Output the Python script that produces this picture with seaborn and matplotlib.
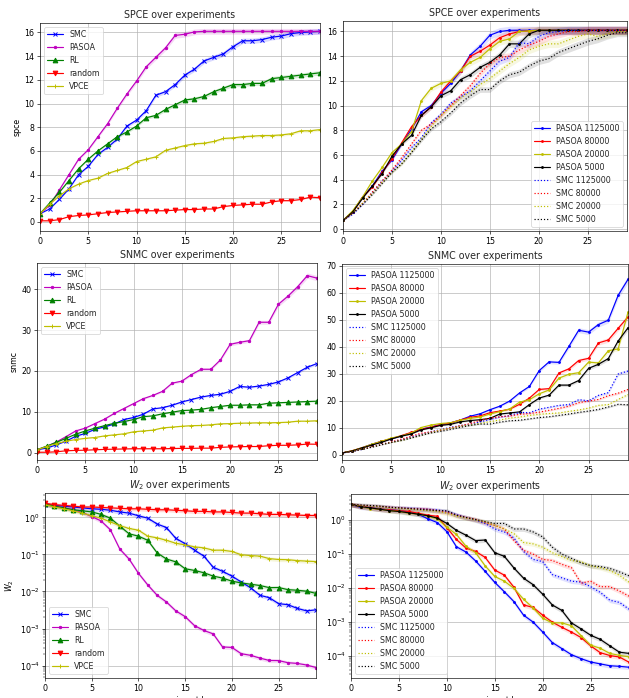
import numpy as np
import matplotlib
matplotlib.use("Agg")
import matplotlib.pyplot as plt
import seaborn as sns

# ---------------- data ----------------
experiments = list(range(30))

# SPCE (left)
spce_smc = [0.7, 1.1, 1.9, 2.8, 4.0, 4.7, 5.7, 6.3, 7.0, 8.1, 8.6, 9.4, 10.7, 11.0, 11.6,
            12.4, 12.9, 13.6, 13.9, 14.2, 14.8, 15.3, 15.3, 15.4, 15.6, 15.7, 15.9, 16.0, 16.05, 16.1]
spce_pasoa = [0.7, 1.4, 2.7, 4.0, 5.3, 6.1, 7.2, 8.3, 9.6, 10.8, 11.9, 13.1, 13.9, 14.7, 15.75,
              15.85, 16.05, 16.1, 16.1, 16.1, 16.1, 16.1, 16.1, 16.1, 16.1, 16.1, 16.1, 16.1, 16.1, 16.1]
spce_rl = [0.7, 1.6, 2.5, 3.5, 4.5, 5.3, 6.0, 6.6, 7.2, 7.6, 8.1, 8.8, 9.0, 9.5, 9.9,
           10.3, 10.4, 10.6, 11.0, 11.3, 11.6, 11.6, 11.7, 11.7, 12.1, 12.2, 12.3, 12.4, 12.5, 12.6]
spce_random = [0.1, 0.1, 0.2, 0.45, 0.55, 0.6, 0.7, 0.8, 0.85, 0.9, 0.95, 0.95, 0.95, 0.95, 1.0,
               1.05, 1.05, 1.1, 1.1, 1.3, 1.4, 1.45, 1.5, 1.5, 1.7, 1.8, 1.8, 1.9, 2.1, 2.05]
spce_vpce = [0.7, 1.5, 2.2, 2.8, 3.2, 3.5, 3.7, 4.1, 4.35, 4.6, 5.1, 5.3, 5.5, 6.05, 6.25,
             6.45, 6.6, 6.65, 6.8, 7.05, 7.1, 7.2, 7.25, 7.3, 7.3, 7.35, 7.45, 7.7, 7.7, 7.8]

# SPCE (right)
spce_pasoa_1125000 = [0.7, 1.4, 2.6, 3.5, 4.7, 5.6, 6.9, 8.1, 9.5, 10.0, 11.0, 11.8, 12.8, 14.1, 14.8,
                      15.7, 16.0, 16.1, 16.1, 16.1, 16.1, 16.1, 16.1, 16.1, 16.1, 16.1, 16.1, 16.1, 16.1, 16.1]
spce_pasoa_80000 = [0.7, 1.4, 2.6, 3.4, 4.6, 5.7, 7.0, 8.3, 9.2, 9.9, 11.1, 12.0, 12.8, 14.0, 14.4,
                    14.9, 15.5, 15.8, 16.0, 16.05, 16.1, 16.1, 16.1, 16.1, 16.1, 16.1, 16.1, 16.1, 16.1, 16.1]
spce_pasoa_20000 = [0.7, 1.5, 2.6, 3.9, 5.0, 6.2, 6.9, 7.9, 10.4, 11.4, 11.8, 12.0, 12.9, 13.5, 13.9,
                    14.6, 15.2, 15.4, 16.0, 16.05, 16.1, 16.1, 16.1, 16.1, 16.1, 16.1, 16.1, 16.1, 16.1, 16.1]
spce_pasoa_5000 = [0.7, 1.4, 2.5, 3.5, 4.5, 5.9, 6.9, 7.6, 9.2, 9.9, 10.8, 11.2, 12.1, 12.5, 13.1,
                   13.5, 14.1, 15.0, 15.0, 15.8, 16.1, 16.1, 16.1, 16.1, 16.1, 16.1, 16.1, 16.1, 16.1, 16.1]
spce_smc_1125000 = [0.7, 1.2, 2.0, 3.0, 3.9, 4.7, 5.6, 6.6, 7.4, 8.6, 9.3, 10.2, 10.7, 11.2, 12.0,
                    12.8, 13.6, 13.9, 15.1, 15.0, 15.6, 15.9, 16.0, 16.1, 16.1, 16.1, 16.1, 16.1, 16.1, 16.1]
spce_smc_80000 = [0.7, 1.3, 2.1, 3.0, 3.9, 4.8, 5.8, 6.9, 8.0, 8.5, 9.2, 10.0, 10.8, 11.6, 12.6,
                  13.4, 13.9, 14.0, 14.5, 14.9, 15.2, 15.6, 15.8, 16.0, 16.0, 16.1, 16.1, 16.1, 16.1, 16.1]
spce_smc_20000 = [0.7, 1.3, 2.1, 2.9, 3.8, 4.6, 5.3, 6.3, 7.3, 8.3, 9.2, 9.9, 10.6, 11.1, 11.7,
                  12.2, 12.8, 13.4, 13.9, 14.5, 14.8, 15.0, 15.0, 15.3, 15.6, 15.8, 15.6, 15.8, 16.0, 16.0]
spce_smc_5000 = [0.7, 1.3, 2.0, 2.8, 3.7, 4.6, 5.3, 6.2, 7.2, 8.1, 8.7, 9.4, 10.2, 10.8, 11.3,
                 11.3, 12.0, 12.5, 12.7, 13.2, 13.6, 13.8, 14.3, 14.6, 14.9, 15.2, 15.4, 15.7, 15.9, 15.9]

# SNMC (left)
snmc_smc = [0.7, 1.1, 1.9, 2.8, 4.0, 4.7, 5.7, 6.3, 7.0, 8.1, 8.6, 9.4, 10.7, 11.0, 11.6,
            12.4, 13.0, 13.6, 14.0, 14.3, 15.0, 16.2, 16.0, 16.3, 16.7, 17.3, 18.3, 19.6, 20.9, 21.8]
snmc_pasoa = [0.7, 1.5, 2.6, 3.9, 5.3, 6.0, 7.1, 8.2, 9.6, 10.8, 12.0, 13.2, 14.0, 15.0, 17.0,
              17.5, 19.1, 20.4, 20.4, 22.7, 26.5, 27.0, 27.4, 31.9, 31.9, 36.3, 38.3, 40.6, 43.3, 42.7]
snmc_rl = [0.7, 1.6, 2.5, 3.5, 4.5, 5.3, 6.0, 6.6, 7.2, 7.6, 8.1, 8.8, 9.0, 9.5, 9.9,
           10.3, 10.4, 10.6, 11.0, 11.3, 11.6, 11.6, 11.7, 11.7, 12.1, 12.2, 12.3, 12.4, 12.5, 12.6]
snmc_random = [0.1, 0.1, 0.2, 0.45, 0.55, 0.6, 0.7, 0.8, 0.85, 0.9, 0.95, 0.95, 0.95, 0.95, 1.0,
               1.05, 1.05, 1.1, 1.1, 1.3, 1.4, 1.45, 1.5, 1.5, 1.7, 1.8, 1.8, 1.9, 2.1, 2.05]
snmc_vpce = [0.7, 1.5, 2.2, 2.8, 3.2, 3.5, 3.7, 4.1, 4.35, 4.6, 5.1, 5.3, 5.5, 6.05, 6.25,
             6.45, 6.6, 6.65, 6.8, 7.05, 7.1, 7.2, 7.25, 7.3, 7.3, 7.35, 7.45, 7.7, 7.7, 7.8]

# SNMC (right)
snmc_pasoa_1125000 = [0.7, 1.4, 2.6, 3.9, 5.0, 5.9, 7.0, 8.1, 9.5, 10.3, 11.2, 11.8, 12.9, 14.3, 15.2,
                      16.7, 18.0, 19.9, 22.9, 25.3, 31.2, 34.4, 34.2, 40.1, 46.1, 45.4, 48.2, 49.8, 59.0, 64.9]
snmc_pasoa_80000 = [0.7, 1.5, 2.6, 3.8, 5.0, 6.0, 7.1, 8.3, 9.4, 10.2, 11.2, 11.8, 12.9, 13.9, 14.4,
                    15.6, 16.2, 16.9, 18.7, 21.0, 24.2, 24.5, 30.3, 31.8, 34.9, 35.7, 41.4, 42.5, 46.8, 51.0]
snmc_pasoa_20000 = [0.7, 1.5, 2.6, 3.9, 5.0, 6.2, 7.0, 8.0, 10.1, 11.0, 11.6, 11.9, 12.8, 13.5, 14.0,
                    15.1, 16.0, 17.0, 19.5, 20.4, 22.6, 24.0, 28.4, 29.8, 30.4, 34.3, 34.0, 38.5, 39.2, 52.8]
snmc_pasoa_5000 = [0.7, 1.4, 2.5, 3.6, 4.6, 5.9, 6.9, 7.7, 9.2, 10.0, 10.9, 11.3, 12.2, 12.7, 13.0,
                   13.5, 15.1, 15.5, 15.9, 18.6, 21.0, 22.1, 25.8, 25.8, 27.5, 32.0, 33.5, 35.6, 42.1, 47.0]
snmc_smc_1125000 = [0.7, 1.2, 2.0, 3.0, 3.9, 4.7, 5.6, 6.6, 7.5, 8.6, 9.3, 10.2, 10.8, 11.3, 12.2,
                    13.1, 14.0, 14.5, 15.7, 15.6, 16.9, 17.6, 18.3, 18.6, 20.4, 20.0, 22.0, 23.0, 29.9, 31.0]
snmc_smc_80000 = [0.7, 1.3, 2.1, 3.0, 3.9, 4.8, 5.8, 6.9, 8.0, 8.5, 9.2, 10.0, 10.8, 11.6, 12.8,
                  13.6, 14.1, 14.4, 15.0, 15.3, 15.8, 16.5, 17.2, 18.0, 19.3, 19.9, 20.5, 21.9, 22.8, 24.2]
snmc_smc_20000 = [0.7, 1.3, 2.1, 2.9, 3.8, 4.6, 5.3, 6.3, 7.3, 8.3, 9.2, 9.9, 10.6, 11.1, 11.7,
                  12.3, 12.9, 13.6, 14.0, 14.6, 15.0, 15.3, 15.5, 16.1, 16.6, 17.3, 18.3, 18.6, 20.5, 22.3]
snmc_smc_5000 = [0.7, 1.3, 2.0, 2.8, 3.7, 4.6, 5.3, 6.2, 7.2, 8.1, 8.7, 9.4, 10.2, 10.9, 11.4,
                 11.4, 12.1, 12.6, 12.8, 13.3, 13.8, 14.1, 14.6, 15.1, 15.7, 16.2, 16.8, 17.7, 18.7, 18.5]

# W2 (left)
w2_smc = [2.2, 2.1, 2.0, 1.9, 1.8, 1.7, 1.65, 1.55, 1.4, 1.3, 1.1, 0.95, 0.66, 0.53, 0.27,
          0.195, 0.13, 0.09, 0.045, 0.035, 0.026, 0.018, 0.0126, 0.0079, 0.0068, 0.0047, 0.0044, 0.0035, 0.003, 0.0032]
w2_pasoa = [2.2, 2.0, 1.8, 1.6, 1.35, 1.05, 0.8, 0.46, 0.14, 0.075, 0.031, 0.015, 0.0079, 0.0052, 0.003,
            0.0021, 0.0012, 0.00089, 0.00072, 0.00032, 0.00031, 0.00021, 0.00019, 0.00016, 0.000138, 0.000137, 0.00012, 0.000115, 0.000104, 0.000089]
w2_rl = [2.3, 2.0, 1.8, 1.6, 1.5, 1.4, 1.2, 0.95, 0.58, 0.36, 0.31, 0.24, 0.11, 0.075, 0.063,
         0.041, 0.037, 0.032, 0.026, 0.023, 0.019, 0.017, 0.0157, 0.0145, 0.0127, 0.0128, 0.0112, 0.0108, 0.0102, 0.0089]
w2_random = [2.4, 2.2, 2.1, 2.0, 1.9, 1.9, 1.85, 1.8, 1.75, 1.7, 1.7, 1.65, 1.6, 1.6, 1.55,
             1.5, 1.45, 1.45, 1.4, 1.4, 1.35, 1.3, 1.3, 1.25, 1.2, 1.2, 1.17, 1.15, 1.12, 1.12]
w2_vpce = [2.2, 1.9, 1.7, 1.5, 1.3, 1.1, 0.95, 0.75, 0.6, 0.5, 0.45, 0.31, 0.28, 0.24, 0.2,
           0.18, 0.16, 0.15, 0.13, 0.13, 0.12, 0.098, 0.093, 0.09, 0.077, 0.073, 0.072, 0.068, 0.066, 0.064]

# W2 (right)
w2_pasoa_1125000 = [2.9, 2.4, 2.3, 2.1, 2.0, 1.9, 1.7, 1.5, 1.1, 0.85, 0.46, 0.165, 0.115, 0.063, 0.031,
                    0.0147, 0.0078, 0.004, 0.0016, 0.001, 0.00051, 0.00025, 0.000166, 0.00011, 0.000084, 0.000067, 0.000059, 0.000052, 0.00005, 0.000047]
w2_pasoa_80000 = [2.9, 2.5, 2.3, 2.1, 2.0, 1.9, 1.8, 1.6, 1.4, 1.3, 0.6, 0.27, 0.15, 0.12, 0.08,
                  0.034, 0.024, 0.0106, 0.0032, 0.0027, 0.0016, 0.001, 0.0007, 0.00051, 0.00035, 0.0002, 0.000126, 0.000104, 0.000094, 0.000066]
w2_pasoa_20000 = [2.9, 2.5, 2.2, 2.1, 1.9, 1.8, 1.6, 1.5, 1.3, 1.1, 0.62, 0.38, 0.17, 0.11, 0.045,
                  0.022, 0.016, 0.0098, 0.0047, 0.0026, 0.0013, 0.00095, 0.00095, 0.00078, 0.0004, 0.00021, 0.00017, 0.00012, 0.000105, 0.000095]
w2_pasoa_5000 = [2.9, 2.5, 2.3, 2.1, 1.9, 1.8, 1.65, 1.5, 1.35, 1.15, 0.8, 0.5, 0.36, 0.25, 0.26,
                 0.11, 0.086, 0.039, 0.0196, 0.0126, 0.0066, 0.0032, 0.0022, 0.00095, 0.00063, 0.00041, 0.00031, 0.0002, 0.00013, 0.00012]
w2_smc_1125000 = [2.9, 2.7, 2.6, 2.5, 2.4, 2.3, 2.25, 2.2, 2.1, 2.0, 1.8, 1.45, 1.2, 1.0, 0.8,
                  0.55, 0.45, 0.3, 0.12, 0.07, 0.06, 0.025, 0.02, 0.016, 0.015, 0.011, 0.0075, 0.0044, 0.0038, 0.0024]
w2_smc_80000 = [2.9, 2.7, 2.6, 2.5, 2.4, 2.3, 2.2, 2.15, 2.1, 1.9, 1.7, 1.4, 1.2, 1.05, 0.85,
                0.7, 0.55, 0.25, 0.13, 0.1, 0.07, 0.065, 0.05, 0.04, 0.014, 0.016, 0.011, 0.011, 0.0082, 0.0058]
w2_smc_20000 = [2.9, 2.7, 2.6, 2.5, 2.3, 2.2, 2.1, 2.0, 1.9, 1.8, 1.6, 1.3, 1.15, 1.0, 0.9,
                0.7, 0.55, 0.4, 0.22, 0.2, 0.16, 0.11, 0.085, 0.065, 0.06, 0.045, 0.04, 0.033, 0.024, 0.015]
w2_smc_5000 = [2.9, 2.8, 2.7, 2.6, 2.4, 2.3, 2.2, 2.1, 2.0, 1.9, 1.9, 1.4, 1.2, 1.05, 0.9,
               0.8, 0.8, 0.55, 0.55, 0.45, 0.32, 0.16, 0.1, 0.075, 0.055, 0.046, 0.043, 0.038, 0.03, 0.023]

method_labels = ["SMC", "PASOA", "RL", "random", "VPCE"]
budget_labels = ["PASOA 1125000", "PASOA 80000", "PASOA 20000", "PASOA 5000",
                 "SMC 1125000", "SMC 80000", "SMC 20000", "SMC 5000"]

# ---------------- style ----------------
DPI = 57
plt.rcParams.update(plt.rcParamsDefault)
sns.set_style("ticks")
plt.rcParams["font.family"] = ["DejaVu Sans"]
plt.rcParams["axes.edgecolor"] = "black"
plt.rcParams["xtick.color"] = "black"
plt.rcParams["ytick.color"] = "black"
plt.rcParams["axes.labelcolor"] = "black"

left_styles = [("b", "x"), ("m", "."), ("g", "^"), ("r", "v"), ("y", "+")]
right_styles = [("b", "-", "."), ("r", "-", "."), ("y", "-", "."), ("k", "-", "."),
                ("b", ":", None), ("r", ":", None), ("y", ":", None), ("k", ":", None)]

fig = plt.figure(figsize=(629 / DPI, 698 / DPI), dpi=DPI)
W, H = 629.0, 698.0


def make_ax(l, r, t, b):
    return fig.add_axes([l / W, 1 - b / H, (r - l) / W, (b - t) / H])


def draw_left(ax, series, log=False):
    for (c, m), vals, lab in zip(left_styles, series, method_labels):
        v = np.array(vals)
        rel = 0.12 if log else 0.015
        ax.fill_between(experiments, v * (1 - rel), v * (1 + rel), color=c, alpha=0.15, lw=0)
        sns.lineplot(x=experiments, y=vals, ax=ax, color=c, marker=m, markersize=6,
                     markeredgecolor=c, markeredgewidth=1.2, linewidth=1.5, label=lab)


def draw_right(ax, series, log=False):
    for (c, ls, m), vals, lab in zip(right_styles, series, budget_labels):
        v = np.array(vals)
        rel = 0.15 if log else 0.02
        ax.fill_between(experiments, v * (1 - rel), v * (1 + rel), color=c, alpha=0.12, lw=0)
        kw = dict(marker=m, markersize=5, markeredgecolor=c, markeredgewidth=1) if m else {}
        sns.lineplot(x=experiments, y=vals, ax=ax, color=c, linestyle=ls,
                     linewidth=1.5, label=lab, **kw)


def finish(ax, title, ylabel=None, xlabel=None, loc="best"):
    ax.set_xlim(0, 29)
    ax.set_xticks([0, 5, 10, 15, 20, 25])
    ax.grid(True, color="#b0b0b0", linewidth=0.8)
    ax.set_title(title)
    ax.set_ylabel(ylabel if ylabel else "")
    ax.set_xlabel(xlabel if xlabel else "")
    ax.legend(loc=loc)
    for s in ax.spines.values():
        s.set_visible(True)
        s.set_color("black")


ax1 = make_ax(40, 320, 23, 231)
draw_left(ax1, [spce_smc, spce_pasoa, spce_rl, spce_random, spce_vpce])
finish(ax1, "SPCE over experiments", "spce", loc="upper left")
ax1.set_yticks([0, 2, 4, 6, 8, 10, 12, 14, 16])
ax1.set_ylim(-0.76, 16.8)

ax2 = make_ax(343, 627, 21, 231)
draw_right(ax2, [spce_pasoa_1125000, spce_pasoa_80000, spce_pasoa_20000, spce_pasoa_5000,
                 spce_smc_1125000, spce_smc_80000, spce_smc_20000, spce_smc_5000])
finish(ax2, "SPCE over experiments", loc="lower right")
ax2.set_yticks([0, 2, 4, 6, 8, 10, 12, 14, 16])
ax2.set_ylim(-0.15, 16.85)

ax3 = make_ax(37, 317, 263, 460)
draw_left(ax3, [snmc_smc, snmc_pasoa, snmc_rl, snmc_random, snmc_vpce])
finish(ax3, "SNMC over experiments", "snmc", loc="upper left")
ax3.set_ylim(-1.8, 46.4)

ax4 = make_ax(342, 628, 264, 460)
draw_right(ax4, [snmc_pasoa_1125000, snmc_pasoa_80000, snmc_pasoa_20000, snmc_pasoa_5000,
                 snmc_smc_1125000, snmc_smc_80000, snmc_smc_20000, snmc_smc_5000])
finish(ax4, "SNMC over experiments", loc="upper left")
ax4.set_yticks([0, 10, 20, 30, 40, 50, 60, 70])
ax4.set_ylim(-1.9, 70.6)

ax5 = make_ax(45, 316, 493, 678)
ax5.set_yscale("log")
draw_left(ax5, [w2_smc, w2_pasoa, w2_rl, w2_random, w2_vpce], log=True)
finish(ax5, "$W_2$ over experiments", "$W_2$", "experiment k", loc="lower left")

ax6 = make_ax(351, 629, 494, 678)
ax6.set_yscale("log")
draw_right(ax6, [w2_pasoa_1125000, w2_pasoa_80000, w2_pasoa_20000, w2_pasoa_5000,
                 w2_smc_1125000, w2_smc_80000, w2_smc_20000, w2_smc_5000], log=True)
finish(ax6, "$W_2$ over experiments", xlabel="experiment k", loc="lower left")

fig.savefig("out.png", dpi=DPI)
